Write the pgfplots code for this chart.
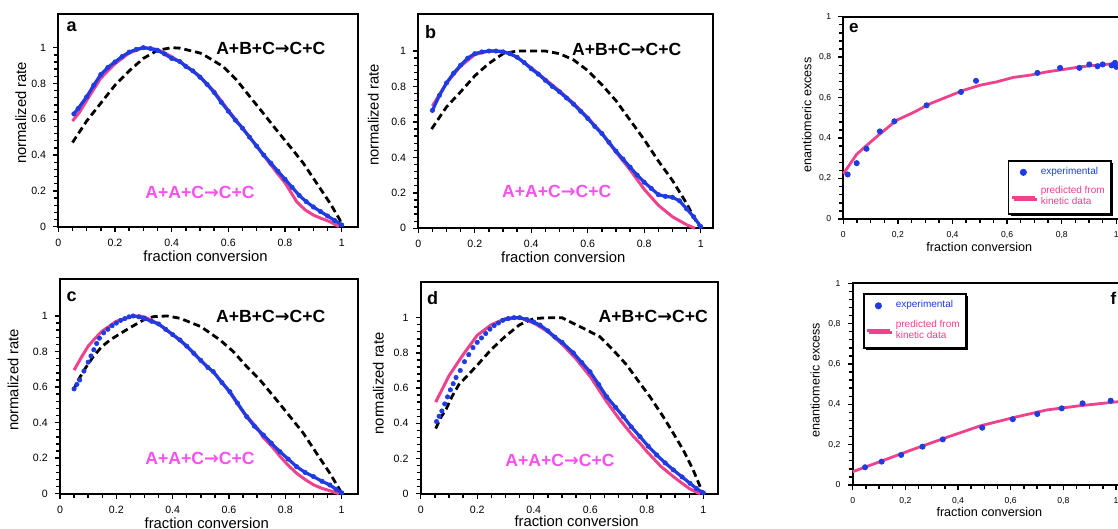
\documentclass[border=0pt]{standalone}
\usepackage{fontspec}
\setmainfont{Liberation Sans}
\newfontfamily\arrowfont{DejaVu Sans}
\usepackage{pgfplots}
\pgfplotsset{compat=1.18}
\usetikzlibrary{shadows}

\definecolor{expblue}{RGB}{30,60,225}
\definecolor{predpink}{RGB}{240,65,140}
\definecolor{rxnmag}{RGB}{250,80,240}

\pgfplotsset{
  common/.style={
    scale only axis, anchor=south west, clip=false,
    xmin=0, ymin=0,
    xtick={0,0.2,0.4,0.6,0.8,1}, ytick={0,0.2,0.4,0.6,0.8,1},
    minor x tick num=3, minor y tick num=4,
    tick pos=left, tick align=outside,
    major tick length=2.6pt, minor tick length=2pt,
    every tick/.style={black, line width=0.7pt},
    axis line style={line width=1pt},
    /pgf/number format/assume math mode=true,
  },
  ratepanel/.style={common,
    tick label style={font=\fontsize{5.3}{6}\selectfont},
    label style={font=\fontsize{7.4}{8}\selectfont},
    xlabel={fraction conversion}, ylabel={normalized rate},
  },
  eepanel/.style={common, ymax=1,
    tick label style={font=\fontsize{4.3}{5}\selectfont},
    label style={font=\fontsize{6.3}{7}\selectfont},
    xlabel={fraction conversion}, ylabel={enantiomeric excess},
    /pgf/number format/use comma,
    reverse legend,
    legend style={draw=black, line width=0.9pt, fill=white,
      drop shadow={shadow xshift=1pt, shadow yshift=-1pt, opacity=1, fill=black},
      font=\fontsize{5}{5.6}\selectfont, cells={anchor=west, align=left},
      inner sep=1.2pt, row sep=0.5pt},
  },
  lineleg/.style={legend image code/.code={\draw[##1] (0pt,0pt) -- (11.5pt,0pt);}},
  dotleg/.style={legend image code/.code={\draw[##1] plot coordinates {(5.5pt,0pt)};}},
  abc/.style={black, line width=1.4pt, dash pattern=on 3.5pt off 2pt},
  pred/.style={predpink, line width=1.5pt},
  expt/.style={expblue, line width=1.6pt, mark=*, mark size=1.1pt, mark options={line width=0.3pt}},
  exptdots/.style={expblue, only marks, mark=*, mark size=1.1pt, mark options={line width=0.3pt}},
}
\newcommand{\rxnfont}{\fontsize{8.8}{9}\selectfont\bfseries}
\newcommand{\ra}{{\arrowfont\bfseries →}}

\begin{document}
\begin{tikzpicture}
% ---- a ----
\begin{axis}[ratepanel, at={(29.15pt,151.15pt)}, width=150pt, height=106.35pt,
  xmax=1.0586, ymax=1.188,
  xlabel style={at={(axis description cs:0.491,-0.141)}, anchor=center},
  ylabel style={at={(axis description cs:-0.125,0.535)}, anchor=center}]
\addplot[abc] coordinates {(0.05,0.47)(0.1,0.59)(0.15,0.69)(0.2,0.79)(0.25,0.87)(0.3,0.94)(0.35,0.985)(0.4,1.0)(0.43,0.997)(0.5,0.97)(0.524,0.95)(0.582,0.894)(0.629,0.82)(0.676,0.726)(0.723,0.634)(0.77,0.54)(0.818,0.447)(0.865,0.354)(0.912,0.242)(0.959,0.131)(0.994,0.037)(1.0,0.0)};
\addplot[pred] coordinates {(0.05,0.59)(0.075,0.64)(0.1,0.705)(0.15,0.83)(0.2,0.91)(0.25,0.97)(0.3,1.0)(0.35,0.99)(0.4,0.95)(0.45,0.90)(0.5,0.84)(0.55,0.755)(0.6,0.65)(0.65,0.55)(0.7,0.45)(0.75,0.345)(0.782,0.28)(0.8,0.245)(0.841,0.14)(0.87,0.095)(0.9,0.065)(0.93,0.045)(0.959,0.028)(0.99,0.0)};
\addplot[expt] coordinates {(0.055,0.63)(0.07,0.66)(0.1,0.725)(0.125,0.79)(0.15,0.85)(0.175,0.89)(0.2,0.92)(0.225,0.95)(0.25,0.975)(0.275,0.99)(0.3,1.0)(0.325,0.995)(0.35,0.985)(0.375,0.965)(0.4,0.94)(0.429,0.922)(0.45,0.895)(0.475,0.87)(0.5,0.835)(0.525,0.795)(0.55,0.75)(0.575,0.695)(0.6,0.645)(0.625,0.595)(0.65,0.55)(0.675,0.50)(0.7,0.45)(0.725,0.40)(0.75,0.355)(0.775,0.31)(0.8,0.265)(0.825,0.22)(0.85,0.175)(0.875,0.14)(0.9,0.11)(0.925,0.085)(0.95,0.06)(0.975,0.035)(1.0,0.01)};
\node[font=\fontsize{9}{9}\selectfont\bfseries] at (axis cs:0.047,1.117) {a};
\node[font=\rxnfont] at (axis cs:0.75,0.997) {A+B+C\ra C+C};
\node[font=\rxnfont, text=rxnmag] at (axis cs:0.5,0.19) {A+A+C\ra C+C};
\end{axis}
% ---- b ----
\begin{axis}[ratepanel, at={(209.15pt,150.35pt)}, width=147.35pt, height=107.15pt,
  xmax=1.0436, ymax=1.209,
  xlabel style={at={(axis description cs:0.492,-0.133)}, anchor=center},
  ylabel style={at={(axis description cs:-0.153,0.529)}, anchor=center}]
\addplot[abc] coordinates {(0.047,0.56)(0.1,0.685)(0.15,0.77)(0.2,0.86)(0.25,0.93)(0.3,0.985)(0.35,1.0)(0.4,1.0)(0.45,1.0)(0.5,0.985)(0.55,0.95)(0.6,0.89)(0.65,0.81)(0.7,0.72)(0.75,0.61)(0.8,0.50)(0.85,0.38)(0.9,0.27)(0.95,0.14)(0.98,0.05)(1.0,0.0)};
\addplot[pred] coordinates {(0.05,0.69)(0.1,0.82)(0.15,0.915)(0.2,0.98)(0.25,1.0)(0.3,1.0)(0.35,0.965)(0.4,0.905)(0.45,0.84)(0.5,0.775)(0.55,0.705)(0.6,0.625)(0.65,0.535)(0.7,0.43)(0.75,0.33)(0.8,0.22)(0.85,0.13)(0.9,0.065)(0.95,0.02)(0.98,0.0)};
\addplot[expt] coordinates {(0.05,0.665)(0.075,0.75)(0.1,0.82)(0.125,0.875)(0.15,0.92)(0.175,0.96)(0.2,0.985)(0.225,0.995)(0.25,1.0)(0.275,1.0)(0.3,0.995)(0.325,0.985)(0.35,0.965)(0.375,0.935)(0.4,0.90)(0.425,0.87)(0.45,0.835)(0.475,0.80)(0.5,0.77)(0.525,0.735)(0.55,0.70)(0.575,0.66)(0.6,0.62)(0.625,0.575)(0.65,0.535)(0.675,0.485)(0.7,0.435)(0.725,0.39)(0.75,0.345)(0.775,0.30)(0.8,0.26)(0.825,0.225)(0.85,0.19)(0.875,0.18)(0.9,0.175)(0.925,0.155)(0.95,0.11)(0.975,0.065)(1.0,0.01)};
\node[font=\fontsize{9}{9}\selectfont\bfseries] at (axis cs:0.044,1.109) {b};
\node[font=\rxnfont] at (axis cs:0.738,1.01) {A+B+C\ra C+C};
\node[font=\rxnfont, text=rxnmag] at (axis cs:0.49,0.206) {A+A+C\ra C+C};
\end{axis}
% ---- c ----
\begin{axis}[ratepanel, at={(30pt,17.65pt)}, width=149.15pt, height=107.35pt,
  xmax=1.059, ymax=1.208,
  xlabel style={at={(axis description cs:0.492,-0.138)}, anchor=center},
  ylabel style={at={(axis description cs:-0.157,0.53)}, anchor=center}]
\addplot[abc] coordinates {(0.047,0.58)(0.065,0.64)(0.09,0.706)(0.118,0.771)(0.148,0.827)(0.178,0.865)(0.213,0.9)(0.255,0.94)(0.296,0.977)(0.331,0.996)(0.38,1.0)(0.426,0.987)(0.5,0.94)(0.568,0.865)(0.615,0.80)(0.663,0.715)(0.71,0.64)(0.769,0.527)(0.817,0.433)(0.864,0.34)(0.911,0.227)(0.958,0.115)(0.994,0.02)(1.0,0.0)};
\addplot[pred] coordinates {(0.05,0.695)(0.075,0.765)(0.1,0.83)(0.125,0.875)(0.15,0.915)(0.2,0.97)(0.25,0.995)(0.28,1.0)(0.3,0.995)(0.35,0.955)(0.4,0.895)(0.45,0.83)(0.5,0.75)(0.55,0.675)(0.6,0.575)(0.65,0.46)(0.7,0.37)(0.722,0.315)(0.75,0.27)(0.781,0.21)(0.81,0.16)(0.84,0.115)(0.87,0.08)(0.9,0.05)(0.93,0.03)(0.958,0.017)(0.98,0.005)(0.99,0.0)};
\addplot[exptdots] coordinates {(0.05,0.59)(0.06,0.615)(0.07,0.64)(0.085,0.69)(0.1,0.74)(0.11,0.775)(0.12,0.81)(0.13,0.845)(0.14,0.875)(0.155,0.905)(0.17,0.925)(0.185,0.945)(0.2,0.96)(0.215,0.975)(0.23,0.985)(0.245,0.995)};
\addplot[expt] coordinates {(0.26,1.0)(0.28,0.995)(0.3,0.985)(0.325,0.97)(0.35,0.955)(0.375,0.925)(0.4,0.895)(0.426,0.865)(0.45,0.83)(0.475,0.79)(0.5,0.75)(0.525,0.71)(0.544,0.687)(0.575,0.625)(0.603,0.574)(0.63,0.51)(0.663,0.433)(0.69,0.38)(0.722,0.33)(0.75,0.285)(0.781,0.236)(0.81,0.195)(0.84,0.152)(0.87,0.12)(0.9,0.096)(0.93,0.07)(0.958,0.049)(0.98,0.025)(1.0,0.005)};
\node[font=\fontsize{9}{9}\selectfont\bfseries] at (axis cs:0.041,1.109) {c};
\node[font=\rxnfont] at (axis cs:0.748,1.0) {A+B+C\ra C+C};
\node[font=\rxnfont, text=rxnmag] at (axis cs:0.497,0.2) {A+A+C\ra C+C};
\end{axis}
% ---- d ----
\begin{axis}[ratepanel, at={(210.35pt,17.65pt)}, width=148.8pt, height=106pt,
  xmax=1.053, ymax=1.2045,
  xlabel style={at={(axis description cs:0.524,-0.132)}, anchor=center},
  ylabel style={at={(axis description cs:-0.142,0.52)}, anchor=center}]
\addplot[abc] coordinates {(0.053,0.37)(0.07,0.43)(0.09,0.48)(0.11,0.55)(0.135,0.62)(0.165,0.67)(0.2,0.73)(0.25,0.82)(0.3,0.895)(0.35,0.96)(0.4,0.995)(0.45,1.0)(0.5,1.0)(0.528,0.977)(0.575,0.94)(0.634,0.892)(0.681,0.816)(0.729,0.731)(0.776,0.627)(0.811,0.551)(0.858,0.4375)(0.894,0.343)(0.929,0.248)(0.964,0.135)(0.994,0.02)(1.0,0.0)};
\addplot[pred] coordinates {(0.053,0.52)(0.1,0.67)(0.15,0.79)(0.2,0.90)(0.25,0.96)(0.3,0.995)(0.35,1.0)(0.4,0.97)(0.45,0.92)(0.5,0.85)(0.55,0.765)(0.6,0.665)(0.658,0.523)(0.7,0.43)(0.75,0.33)(0.776,0.286)(0.8,0.24)(0.85,0.155)(0.894,0.097)(0.92,0.065)(0.95,0.03)(0.98,0.005)(0.99,0.0)};
\addplot[exptdots] coordinates {(0.056,0.41)(0.065,0.44)(0.075,0.47)(0.085,0.51)(0.095,0.55)(0.105,0.59)(0.115,0.625)(0.125,0.66)(0.14,0.70)(0.155,0.75)(0.17,0.79)(0.185,0.83)(0.2,0.86)(0.215,0.885)(0.23,0.91)(0.245,0.935)(0.26,0.955)(0.275,0.97)};
\addplot[expt] coordinates {(0.29,0.985)(0.31,0.995)(0.33,1.0)(0.35,1.0)(0.375,0.99)(0.4,0.975)(0.422,0.958)(0.45,0.925)(0.475,0.89)(0.5,0.86)(0.54,0.80)(0.57,0.745)(0.599,0.693)(0.63,0.62)(0.658,0.551)(0.69,0.49)(0.717,0.4375)(0.745,0.38)(0.776,0.324)(0.805,0.27)(0.835,0.22)(0.865,0.175)(0.894,0.135)(0.925,0.095)(0.953,0.059)(0.975,0.03)(1.0,0.005)};
\node[font=\fontsize{9}{9}\selectfont\bfseries] at (axis cs:0.042,1.11) {d};
\node[font=\rxnfont] at (axis cs:0.823,1.006) {A+B+C\ra C+C};
\node[font=\rxnfont, text=rxnmag] at (axis cs:0.493,0.19) {A+A+C\ra C+C};
\end{axis}
% ---- e ----
\begin{axis}[eepanel, at={(421.65pt,155pt)}, width=144.7pt, height=101.15pt,
  xmax=1.06,
  xlabel style={at={(axis description cs:0.47,-0.137)}, anchor=center},
  ylabel style={at={(axis description cs:-0.126,0.514)}, anchor=center},
  legend style={at={(0.568,0.292)}, anchor=north west}]
\addplot[predpink, line width=1.4pt, lineleg] coordinates {(0,0.223)(0.049,0.32)(0.095,0.375)(0.134,0.42)(0.195,0.488)(0.256,0.526)(0.318,0.57)(0.379,0.603)(0.44,0.636)(0.5,0.661)(0.562,0.678)(0.623,0.70)(0.684,0.711)(0.745,0.727)(0.806,0.739)(0.867,0.752)(0.928,0.76)(1.0,0.769)};
\addlegendentry[text=predpink]{predicted from\\kinetic data}
\addplot[expblue, only marks, mark=*, mark size=1.3pt, dotleg] coordinates {(0.016,0.22)(0.049,0.276)(0.085,0.347)(0.134,0.433)(0.187,0.483)(0.305,0.562)(0.431,0.628)(0.486,0.683)(0.711,0.722)(0.794,0.747)(0.865,0.747)(0.901,0.764)(0.931,0.755)(0.95,0.764)(0.983,0.759)(0.995,0.772)(1.0,0.752)};
\addlegendentry[text=expblue]{experimental}
\node[font=\fontsize{8.5}{9}\selectfont\bfseries] at (axis cs:0.039,0.944) {e};
\end{axis}
% ---- f ----
\begin{axis}[eepanel, at={(426.35pt,22pt)}, width=144.8pt, height=100.85pt,
  xmax=1.1,
  xlabel style={at={(axis description cs:0.472,-0.135)}, anchor=center},
  ylabel style={at={(axis description cs:-0.13,0.52)}, anchor=center},
  legend style={at={(0.0345,0.95)}, anchor=north west}]
\addplot[predpink, line width=1.4pt, lineleg] coordinates {(0,0.066)(0.104,0.116)(0.23,0.177)(0.357,0.236)(0.484,0.293)(0.61,0.334)(0.737,0.372)(0.863,0.393)(1.009,0.413)};
\addlegendentry[text=predpink]{predicted from\\kinetic data}
\addplot[expblue, only marks, mark=*, mark size=1.3pt, dotleg] coordinates {(0.047,0.088)(0.11,0.116)(0.184,0.149)(0.265,0.19)(0.342,0.226)(0.492,0.284)(0.608,0.326)(0.701,0.352)(0.794,0.38)(0.873,0.405)(0.98,0.418)};
\addlegendentry[text=expblue]{experimental}
\node[font=\fontsize{8.5}{9}\selectfont\bfseries] at (axis cs:0.99,0.926) {f};
\end{axis}
\pgfresetboundingbox
\path[use as bounding box] (0,0) rectangle (559pt,264.5pt);
\end{tikzpicture}
\end{document}
